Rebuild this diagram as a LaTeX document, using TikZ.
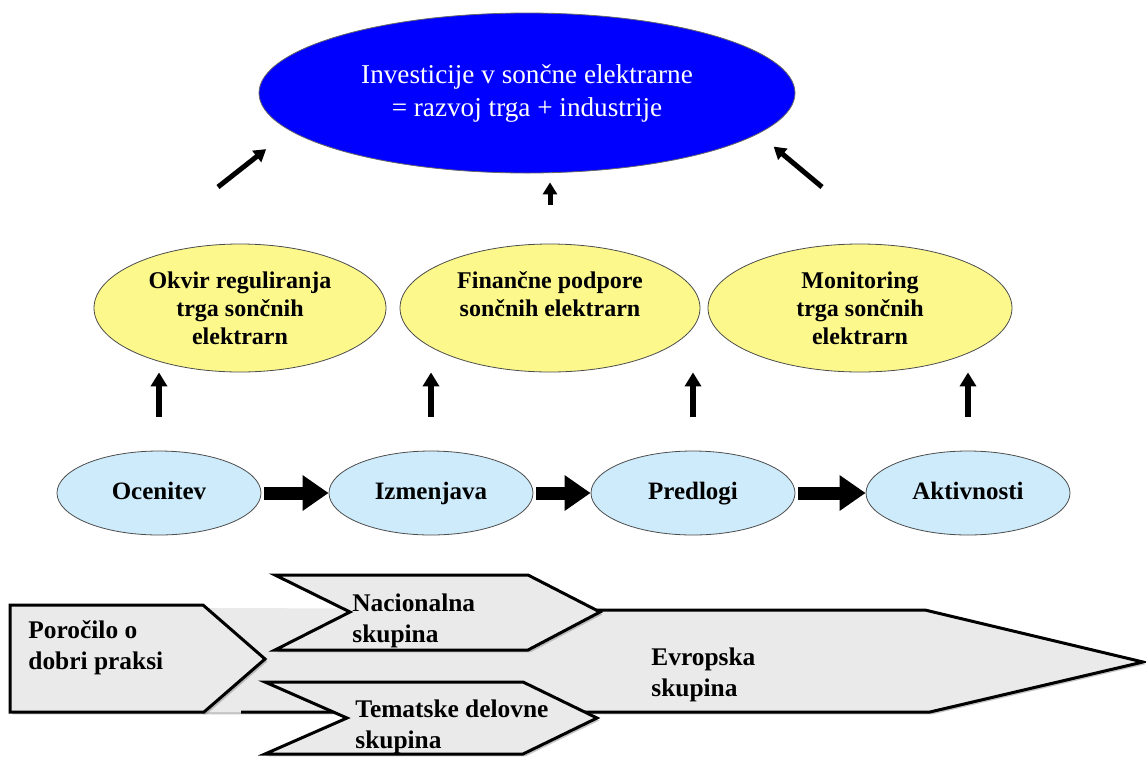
\documentclass[tikz,border=0pt]{standalone}
\usepackage{fontspec}
\setmainfont{Liberation Serif}
\usepackage{xcolor}
\usepackage{tikz}
\usetikzlibrary{shapes.geometric, arrows.meta, positioning, shadows}

\definecolor{investblue}{RGB}{0,0,255}
\definecolor{goalyellow}{RGB}{252,248,140}
\definecolor{stageblue}{RGB}{205,235,250}
\definecolor{chevgray}{RGB}{234,234,234}

\begin{document}
\begin{tikzpicture}[
    x=0.5pt, y=-0.5pt,
    invest/.style={ellipse, draw=black!60, fill=investblue, inner sep=0pt, minimum width=268pt, minimum height=80pt, align=center, text=white, font=\fontsize{13.6}{16.5}\selectfont},
    goal/.style={ellipse, draw=black!70, fill=goalyellow, inner sep=0pt, minimum width=146pt, minimum height=64pt, align=center, font=\bfseries\fontsize{12}{14}\selectfont},
    stage/.style={ellipse, draw=black!70, fill=stageblue, inner sep=0pt, minimum width=102pt, minimum height=42pt, text height=8.5pt, text depth=2.5pt, font=\bfseries\fontsize{12.5}{14}\selectfont},
    chevron/.style={draw=black, line width=1.5pt, fill=chevgray, line join=miter, drop shadow={shadow xshift=1.2pt, shadow yshift=-1.2pt, fill=black!45}},
    chevtext/.style={anchor=west, align=left, inner sep=0pt, font=\bfseries\fontsize{12.7}{15.3}\selectfont},
    flow/.style={line width=6.5pt, -{Triangle[length=13pt, width=17pt]}},
    lift/.style={line width=3pt, -{Triangle[length=7pt, width=8pt]}},
    feed/.style={line width=2.5pt, -{Triangle[length=6pt, width=7pt]}}
]
\useasboundingbox (0,0) rectangle (1146,756);

% Nodes
\node[invest] (invest) at (527,93) {Investicije v sončne elektrarne\\= razvoj trga + industrije};

\node[goal] (okvir) at (240,308) {Okvir reguliranja\\trga sončnih\\elektrarn};
\node[goal, minimum width=150pt] (podpore) at (550,308) {Finančne podpore\\sončnih elektrarn\\\phantom{x}};
\node[goal, minimum width=152pt] (monitor) at (860,308) {Monitoring\\trga sončnih\\elektrarn};

\node[stage] (ocen) at (159,493) {Ocenitev};
\node[stage] (izmen) at (431,493) {Izmenjava};
\node[stage] (predl) at (693,493) {Predlogi};
\node[stage] (aktiv) at (968,493) {Aktivnosti};

% Chevrons
\fill[chevgray, drop shadow={shadow xshift=1.2pt, shadow yshift=-1.2pt, fill=black!45}]
    (200,608) -- (925,610) -- (1143,662) -- (930,712) -- (200,712) -- cycle;
\draw[line width=1.5pt, line join=miter] (580,610) -- (925,610) -- (1143,662) -- (930,712) -- (241,712);
\draw[chevron] (10,605) -- (203,605) -- (265,659) -- (204,712) -- (10,712) -- cycle;
\draw[chevron] (275,575) -- (528,575) -- (600,612) -- (528,650) -- (275,650) -- (350,612) -- cycle;
\draw[chevron] (265,682) -- (523,682) -- (597,718) -- (523,754) -- (265,754) -- (347,718) -- cycle;

\node[chevtext] (report) at (28,648) {Poročilo o\\dobri praksi};
\node[chevtext] (nacional) at (352,621) {Nacionalna\\skupina};
\node[chevtext] (tematske) at (355,727) {Tematske delovne\\skupina};
\node[chevtext] (evropska) at (651,675) {Evropska\\skupina};

% Arrows
\draw[flow, shorten <=1.5pt] (ocen.east) -- (izmen.west);
\draw[flow, shorten <=1.5pt] (izmen.east) -- (predl.west);
\draw[flow, shorten <=1.5pt] (predl.east) -- (aktiv.west);

\draw[lift, shorten <=17pt] (ocen.north) -- (ocen.north |- okvir.south);
\draw[lift, shorten <=17pt] (izmen.north) -- (izmen.north |- podpore.south);
\draw[lift, shorten <=17pt] (predl.north) -- (predl.north |- podpore.south);
\draw[lift, shorten <=17pt] (aktiv.north) -- (aktiv.north |- monitor.south);

\coordinate (leftfeed) at (218,187);
\coordinate (rightfeed) at (822,187);
\draw[feed, shorten >=15pt] (leftfeed) -- (invest.189);
\draw[feed, shorten <=19.5pt, shorten >=4.5pt] (podpore.north) -- (podpore.north |- invest.south);
\draw[feed, shorten >=10pt] (rightfeed) -- (invest.350);

\end{tikzpicture}
\end{document}
